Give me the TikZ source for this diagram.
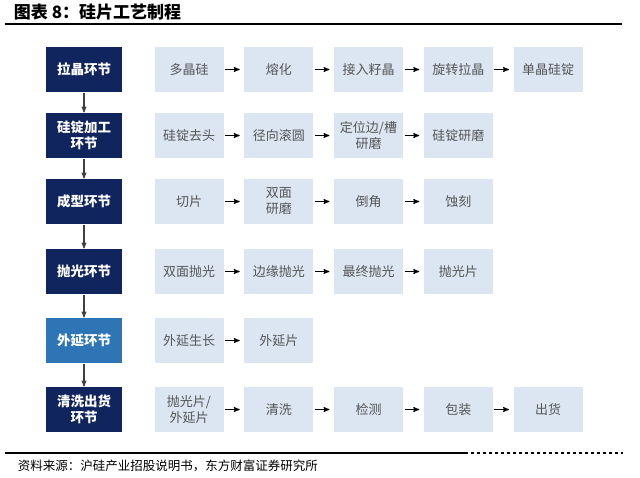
\documentclass[tikz,border=0pt]{standalone}
\usepackage{fontspec}
\setmainfont{Noto Sans CJK SC}
\usetikzlibrary{%
  arrows,%
  positioning% wg. " of "
}
\definecolor{navy}{RGB}{16,36,94}
\definecolor{midblue}{RGB}{46,117,182}
\definecolor{paleblue}{RGB}{220,230,242}
\definecolor{steptext}{RGB}{85,85,85}

\begin{document}
\begin{tikzpicture}
  [
  x=1pt, y=-1pt, >=stealth', line width=1.1pt,
  stage/.style={rectangle, minimum height=45pt, minimum width=76pt, inner sep=0pt, fill=navy, text=white, align=center, font=\fontsize{13.5}{16}\selectfont\bfseries},
  stepbox/.style={rectangle, minimum height=45pt, minimum width=69pt, inner sep=0pt, fill=paleblue, text=steptext, align=center, font=\fontsize{13}{16}\selectfont},
  flow/.style={->, shorten <=1pt, shorten >=4pt},
  down/.style={->, color=black!75}
  ]

\fill[white] (0,0) rectangle (640,477);

% title and rules
\node[anchor=west, font=\fontsize{17}{19}\selectfont\bfseries] (title) at (10,12.5) {图表 8：硅片工艺制程};
\coordinate (tl) at (5,24);
\coordinate (tr) at (622,24);
\draw[line width=1.5pt] (tl) -- (tr);

\coordinate (bl) at (5,453);
\coordinate (bm) at (465,453);
\coordinate (br) at (623,453);
\draw[line width=1.2pt] (bl) -- (bm);
\draw[line width=1.2pt, dashed] (bm) -- (br);
\node[anchor=west, font=\fontsize{12.5}{14}\selectfont] (source) at (14,466) {资料来源：沪硅产业招股说明书，东方财富证券研究所};

% stages
\node[stage] (s1) at (84,69.5) {拉晶环节};
\node[stage] (s2) at (84,135.5) {硅锭加工\\环节};
\node[stage] (s3) at (84,201.5) {成型环节};
\node[stage] (s4) at (84,271.5) {抛光环节};
\node[stage, fill=midblue] (s5) at (84,340.5) {外延环节};
\node[stage] (s6) at (84,409.5) {清洗出货\\环节};

\foreach \a/\b in {1/2,2/3,3/4,4/5,5/6} {
  \draw[down] (s\a) -- (s\b);
}

% steps
\foreach \c/\t in {1/多晶硅, 2/熔化, 3/接入籽晶, 4/旋转拉晶, 5/单晶硅锭} {
  \node[stepbox] (r1c\c) at (189+89.75*\c-89.75,69.5) {\t};
}
\foreach \c/\t in {1/硅锭去头, 2/径向滚圆, 3/{定位边/槽\\研磨}, 4/硅锭研磨} {
  \node[stepbox] (r2c\c) at (189+89.75*\c-89.75,135.5) {\t};
}
\foreach \c/\t in {1/切片, 2/{双面\\研磨}, 3/倒角, 4/蚀刻} {
  \node[stepbox] (r3c\c) at (189+89.75*\c-89.75,201.5) {\t};
}
\foreach \c/\t in {1/双面抛光, 2/边缘抛光, 3/最终抛光, 4/抛光片} {
  \node[stepbox] (r4c\c) at (189+89.75*\c-89.75,271.5) {\t};
}
\foreach \c/\t in {1/外延生长, 2/外延片} {
  \node[stepbox] (r5c\c) at (189+89.75*\c-89.75,340.5) {\t};
}
\foreach \c/\t in {1/{抛光片/\\外延片}, 2/清洗, 3/检测, 4/包装, 5/出货} {
  \node[stepbox] (r6c\c) at (189+89.75*\c-89.75,409.5) {\t};
}

\foreach \r/\n in {1/4, 2/3, 3/3, 4/3, 5/1, 6/4} {
  \foreach \c in {1,...,\n} {
    \pgfmathtruncatemacro{\d}{\c+1}
    \draw[flow] (r\r c\c) -- (r\r c\d);
  }
}

\end{tikzpicture}
\end{document}
